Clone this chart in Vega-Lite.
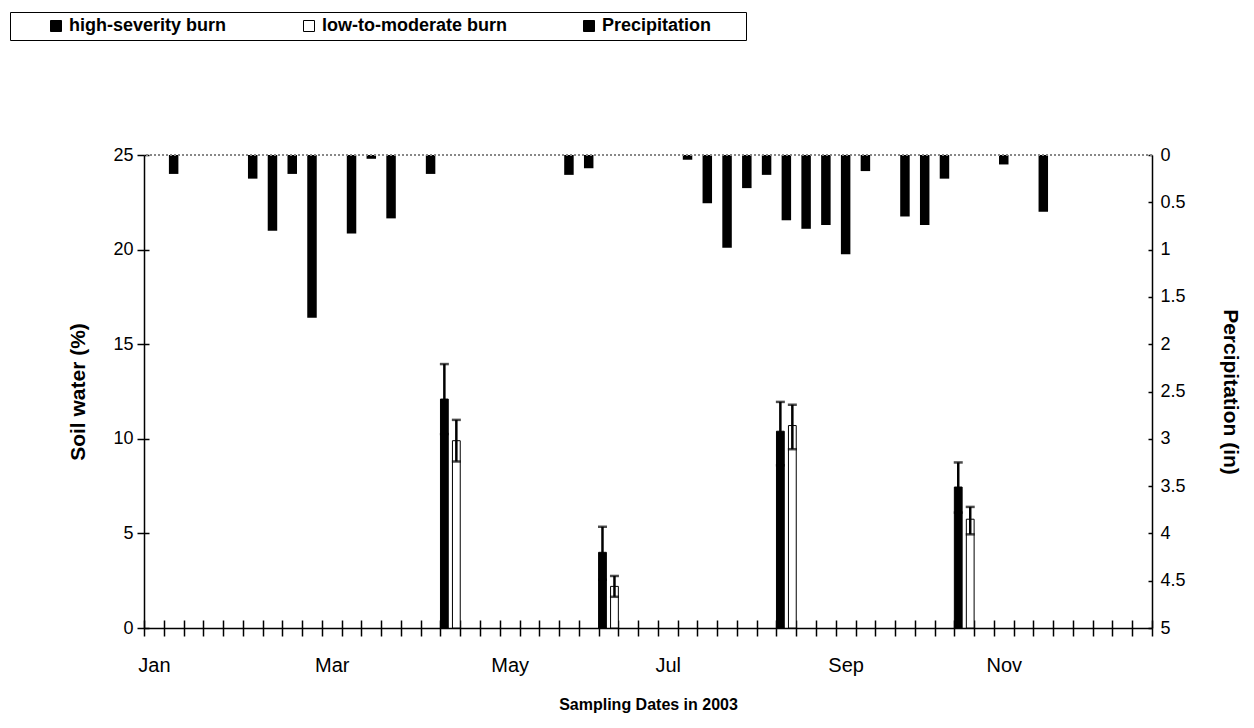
{
  "$schema": "https://vega.github.io/schema/vega-lite/v6.json",
  "width": 1008,
  "height": 473,
  "autosize": {"type": "none"},
  "padding": {"left": 144, "top": 155, "right": 102, "bottom": 100},
  "background": "white",
  "config": {
    "view": {"stroke": null},
    "font": "Liberation Sans",
    "axis": {
      "labelFont": "Liberation Sans",
      "titleFont": "Liberation Sans",
      "labelColor": "black",
      "titleColor": "black",
      "domainColor": "black",
      "tickColor": "black",
      "grid": false
    },
    "legend": {
      "labelFont": "Liberation Sans"
    }
  },
  "datasets": {
    "soil": [
      {"week": "2003-04-16", "burn": "high-severity burn", "water": 12.1, "lo": 10.25, "hi": 13.95},
      {"week": "2003-04-16", "burn": "low-to-moderate burn", "water": 9.9, "lo": 8.8, "hi": 11.0},
      {"week": "2003-06-11", "burn": "high-severity burn", "water": 4.0, "lo": 2.55, "hi": 5.35},
      {"week": "2003-06-11", "burn": "low-to-moderate burn", "water": 2.2, "lo": 1.65, "hi": 2.75},
      {"week": "2003-08-13", "burn": "high-severity burn", "water": 10.4, "lo": 8.6, "hi": 11.95},
      {"week": "2003-08-13", "burn": "low-to-moderate burn", "water": 10.7, "lo": 9.45, "hi": 11.8},
      {"week": "2003-10-15", "burn": "high-severity burn", "water": 7.45, "lo": 6.1, "hi": 8.75},
      {"week": "2003-10-15", "burn": "low-to-moderate burn", "water": 5.75, "lo": 4.95, "hi": 6.4}
    ],
    "precip": [
      {"week": "2003-01-08", "series": "Precipitation", "inches": 0.2},
      {"week": "2003-02-05", "series": "Precipitation", "inches": 0.25},
      {"week": "2003-02-12", "series": "Precipitation", "inches": 0.8},
      {"week": "2003-02-19", "series": "Precipitation", "inches": 0.2},
      {"week": "2003-02-26", "series": "Precipitation", "inches": 1.72},
      {"week": "2003-03-12", "series": "Precipitation", "inches": 0.83},
      {"week": "2003-03-19", "series": "Precipitation", "inches": 0.04},
      {"week": "2003-03-26", "series": "Precipitation", "inches": 0.67},
      {"week": "2003-04-09", "series": "Precipitation", "inches": 0.2},
      {"week": "2003-05-28", "series": "Precipitation", "inches": 0.21},
      {"week": "2003-06-04", "series": "Precipitation", "inches": 0.14},
      {"week": "2003-07-09", "series": "Precipitation", "inches": 0.05},
      {"week": "2003-07-16", "series": "Precipitation", "inches": 0.51},
      {"week": "2003-07-23", "series": "Precipitation", "inches": 0.98},
      {"week": "2003-07-30", "series": "Precipitation", "inches": 0.35},
      {"week": "2003-08-06", "series": "Precipitation", "inches": 0.21},
      {"week": "2003-08-13", "series": "Precipitation", "inches": 0.69},
      {"week": "2003-08-20", "series": "Precipitation", "inches": 0.78},
      {"week": "2003-08-27", "series": "Precipitation", "inches": 0.74},
      {"week": "2003-09-03", "series": "Precipitation", "inches": 1.05},
      {"week": "2003-09-10", "series": "Precipitation", "inches": 0.17},
      {"week": "2003-09-24", "series": "Precipitation", "inches": 0.65},
      {"week": "2003-10-01", "series": "Precipitation", "inches": 0.74},
      {"week": "2003-10-08", "series": "Precipitation", "inches": 0.25},
      {"week": "2003-10-29", "series": "Precipitation", "inches": 0.1},
      {"week": "2003-11-12", "series": "Precipitation", "inches": 0.6}
    ]
  },
  "layer": [
    {
      "data": {"name": "soil"},
      "encoding": {
        "x": {
          "field": "week", "type": "ordinal",
          "scale": {
            "paddingInner": 0, "paddingOuter": 0,
            "domain": ["2003-01-01","2003-01-08","2003-01-15","2003-01-22","2003-01-29","2003-02-05","2003-02-12","2003-02-19","2003-02-26","2003-03-05","2003-03-12","2003-03-19","2003-03-26","2003-04-02","2003-04-09","2003-04-16","2003-04-23","2003-04-30","2003-05-07","2003-05-14","2003-05-21","2003-05-28","2003-06-04","2003-06-11","2003-06-18","2003-06-25","2003-07-02","2003-07-09","2003-07-16","2003-07-23","2003-07-30","2003-08-06","2003-08-13","2003-08-20","2003-08-27","2003-09-03","2003-09-10","2003-09-17","2003-09-24","2003-10-01","2003-10-08","2003-10-15","2003-10-22","2003-10-29","2003-11-05","2003-11-12","2003-11-19","2003-11-26","2003-12-03","2003-12-10","2003-12-17"]
          },
          "axis": {
            "orient": "bottom",
            "title": "Sampling Dates in 2003",
            "titleFontSize": 16,
            "titleFontWeight": "bold",
            "titlePadding": 21,
            "labelFontSize": 20,
            "labelPadding": 19,
            "labelAngle": 0,
            "tickBand": "extent",
            "tickSize": 8,
            "tickWidth": 1.5,
            "domainWidth": 1.5,
            "labelExpr": "datum.value == '2003-01-01' ? 'Jan' : datum.value == '2003-03-05' ? 'Mar' : datum.value == '2003-05-07' ? 'May' : datum.value == '2003-07-02' ? 'Jul' : datum.value == '2003-09-03' ? 'Sep' : datum.value == '2003-10-29' ? 'Nov' : ''"
          }
        },
        "xOffset": {
          "field": "burn", "type": "nominal",
          "scale": {"domain": ["high-severity burn", "low-to-moderate burn"], "paddingInner": 0.35, "paddingOuter": 0}
        }
      },
      "layer": [
        {
          "mark": {"type": "bar", "stroke": "black", "strokeWidth": 1},
          "encoding": {
            "y": {
              "field": "water", "type": "quantitative",
              "scale": {"domain": [0, 25], "nice": false},
              "axis": {
                "orient": "left",
                "values": [0, 5, 10, 15, 20, 25],
                "title": "Soil water (%)",
                "titleFontSize": 21,
                "titleFontWeight": "bold",
                "titlePadding": 24,
                "labelFontSize": 18,
                "labelPadding": 4,
                "tickSize": 7,
                "tickWidth": 1.5,
                "domainWidth": 1.5
              }
            },
            "fill": {
              "field": "burn", "type": "nominal",
              "scale": {"domain": ["high-severity burn", "low-to-moderate burn", "Precipitation"], "range": ["black", "white", "black"]},
              "legend": {
                "orient": "none",
                "legendX": -134,
                "legendY": -143,
                "direction": "horizontal",
                "title": "\u00a0",
                "titleOrient": "right",
                "titlePadding": 30,
                "titleFontSize": 18,
                "strokeColor": "black",
                "padding": 5,
                "symbolType": "square",
                "symbolSize": 121,
                "symbolStrokeColor": "black",
                "symbolStrokeWidth": 1,
                "symbolOffset": 32,
                "labelOffset": 4,
                "labelFontSize": 18,
                "labelFontWeight": "bold",
                "labelLimit": 400,
                "labelColor": "black",
                "columnPadding": 41
              }
            }
          }
        },
        {
          "mark": {"type": "rule", "color": "black", "strokeWidth": 2.5},
          "encoding": {
            "y": {
              "field": "lo", "type": "quantitative",
              "axis": {
                "orient": "left",
                "values": [0, 5, 10, 15, 20, 25],
                "title": null,
                "labels": false,
                "domain": false,
                "tickSize": -5,
                "tickWidth": 1.5
              }
            },
            "y2": {"field": "hi"}
          }
        },
        {
          "mark": {"type": "tick", "color": "black", "size": 9, "thickness": 2.5},
          "encoding": {
            "y": {"field": "hi", "type": "quantitative", "axis": null}
          }
        },
        {
          "mark": {"type": "tick", "color": "black", "size": 9, "thickness": 2.5},
          "encoding": {
            "y": {"field": "lo", "type": "quantitative", "axis": null}
          }
        }
      ],
      "resolve": {"axis": {"y": "independent"}}
    },
    {
      "data": {"name": "precip"},
      "layer": [
        {
          "mark": {"type": "bar", "width": {"band": 0.48}},
          "encoding": {
            "x": {
              "field": "week", "type": "ordinal",
              "axis": {
                "orient": "bottom",
                "title": null,
                "labels": false,
                "domain": false,
                "tickBand": "extent",
                "tickSize": -8,
                "tickWidth": 1.5
              }
            },
            "y": {
              "field": "inches", "type": "quantitative",
              "scale": {"domain": [0, 5], "reverse": true, "nice": false},
              "axis": {
                "orient": "right",
                "values": [0, 0.5, 1, 1.5, 2, 2.5, 3, 3.5, 4, 4.5, 5],
                "format": "~g",
                "title": "Percipitation (in)",
                "titleFontSize": 21,
                "titleFontWeight": "bold",
                "titlePadding": 34,
                "labelFontSize": 18,
                "labelPadding": 12,
                "tickSize": -4,
                "tickWidth": 1.5,
                "domainWidth": 1.5
              }
            },
            "fill": {"field": "series", "type": "nominal"}
          }
        },
        {
          "mark": {"type": "rule", "color": "#888888", "strokeDash": [2, 2], "strokeWidth": 1.5},
          "encoding": {
            "y": {"datum": 0}
          }
        }
      ]
    }
  ],
  "resolve": {"scale": {"y": "independent"}, "axis": {"x": "independent"}}
}
